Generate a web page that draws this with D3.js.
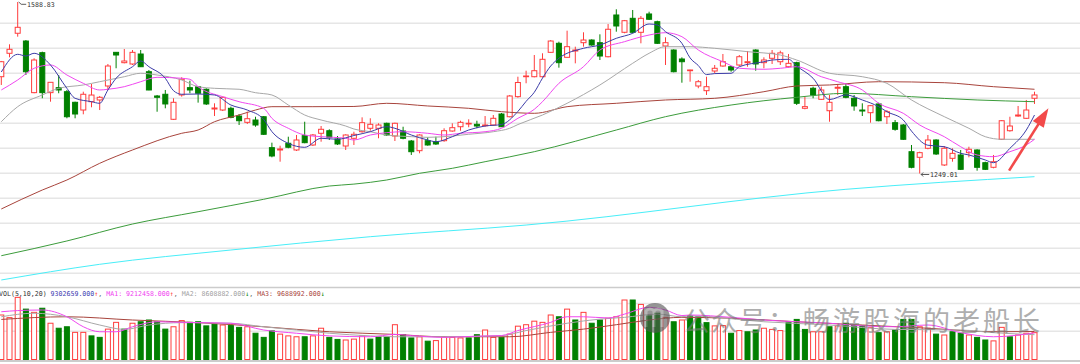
<!DOCTYPE html>
<html>
<head>
<meta charset="utf-8">
<script src="https://cdn.jsdelivr.net/npm/d3@7/dist/d3.min.js"></script>
<style>
  html, body { margin: 0; padding: 0; background: #fff; }
  svg { display: block; }
  .mono { font-family: 'DejaVu Sans Mono', monospace; font-size: 6.6px; }
</style>
</head>
<body>
<div id="chart-area"></div>
<script>
// Daily candles (oldest -> newest)
const opens = [1440.8,1487.2,1526.9,1511.5,1409.2,1488.4,1409.2,1419.1,1411.1,1390.1,
  1374.8,1391.3,1394.7,1422.4,1489.1,1468.6,1466.0,1485.8,1450.7,1402.6,
  1406.0,1356.4,1404.6,1419.1,1421.0,1415.9,1376.8,1374.8,1378.2,1362.9,
  1350.4,1355.0,1361.5,1300.2,1295.6,1308.9,1295.6,1323.9,1305.5,1328.7,
  1333.8,1317.4,1303.5,1318.8,1331.8,1338.6,1338.6,1348.5,1323.3,1333.2,
  1313.4,1294.2,1314.0,1312.0,1314.0,1333.2,1341.7,1347.1,1346.5,1343.7,
  1345.1,1366.9,1361.5,1401.3,1440.8,1440.8,1440.8,1489.1,1507.0,1479.2,
  1491.7,1508.2,1513.5,1508.2,1480.4,1563.1,1528.8,1556.5,1528.8,1565.1,
  1549.8,1501.7,1493.7,1475.9,1452.7,1422.4,1413.1,1452.1,1462.0,1460.6,
  1464.0,1468.6,1493.7,1468.6,1477.3,1470.5,1460.6,1468.6,1378.2,1417.9,
  1396.0,1373.4,1417.9,1421.0,1398.1,1374.8,1369.5,1386.8,1361.5,1349.7,
  1345.1,1292.2,1281.1,1299.0,1315.4,1265.9,1279.1,1285.7,1290.3,1295.6,
  1270.4,1261.3,1316.8,1333.8,1362.9,1358.4,1398.1];
const highs = [1472.0,1505.0,1588.83,1513.5,1477.3,1490.4,1430.0,1444.2,1414.5,1391.3,
  1411.1,1426.4,1402.6,1466.0,1489.5,1495.7,1493.7,1493.7,1454.1,1404.6,
  1414.5,1398.1,1439.7,1432.9,1421.5,1417.9,1388.1,1401.3,1381.5,1366.9,
  1371.4,1361.5,1362.9,1310.1,1304.1,1321.9,1325.3,1351.6,1327.3,1343.1,
  1336.6,1323.3,1326.7,1331.8,1360.3,1358.4,1348.5,1349.7,1349.7,1341.7,
  1315.4,1326.7,1320.7,1321.9,1338.6,1348.5,1353.6,1356.4,1353.6,1362.9,
  1364.9,1368.9,1404.6,1440.8,1452.7,1483.8,1487.2,1513.5,1510.2,1532.0,
  1500.3,1528.8,1514.9,1524.8,1545.2,1574.4,1553.2,1573.0,1561.1,1569.6,
  1551.8,1518.9,1495.1,1479.2,1454.5,1434.3,1440.8,1464.0,1485.8,1462.0,
  1483.8,1491.7,1495.1,1479.2,1493.7,1492.3,1485.8,1470.5,1401.3,1421.0,
  1421.0,1404.6,1426.4,1426.4,1404.6,1388.1,1384.8,1389.4,1374.8,1355.0,
  1347.1,1305.5,1292.2,1325.3,1316.8,1303.5,1299.0,1295.6,1302.1,1297.0,
  1272.4,1285.7,1355.0,1361.5,1382.8,1394.7,1411.1];
const lows = [1424.4,1479.2,1520.1,1444.2,1408.0,1398.1,1391.3,1408.0,1358.4,1358.4,
  1366.3,1380.2,1374.8,1414.5,1457.5,1467.3,1464.0,1460.0,1414.0,1371.4,
  1378.2,1355.0,1401.3,1408.0,1389.4,1384.8,1362.9,1372.8,1358.4,1345.1,
  1347.1,1341.7,1325.3,1281.1,1272.4,1299.0,1293.6,1308.9,1303.5,1312.0,
  1315.4,1305.5,1295.6,1305.5,1329.8,1333.8,1318.8,1323.3,1313.4,1316.8,
  1285.7,1289.1,1304.1,1305.5,1312.0,1331.8,1333.8,1340.6,1338.6,1341.7,
  1343.1,1341.1,1360.3,1399.2,1427.8,1439.6,1439.6,1488.4,1458.7,1478.5,
  1467.3,1500.3,1502.2,1473.9,1479.2,1530.0,1526.9,1526.9,1507.0,1553.2,
  1505.6,1464.0,1449.5,1428.9,1430.9,1417.9,1404.6,1447.6,1460.6,1450.7,
  1462.0,1460.6,1452.7,1457.5,1466.0,1464.0,1458.7,1384.8,1376.2,1398.1,
  1394.7,1351.6,1404.6,1398.1,1373.4,1362.9,1349.7,1352.4,1347.1,1333.8,
  1315.4,1259.3,1249.01,1297.0,1285.7,1263.9,1272.4,1255.9,1281.1,1254.6,
  1255.9,1259.3,1315.4,1331.8,1361.5,1357.0,1386.8];
const closes = [1470.5,1495.1,1538.7,1450.7,1473.9,1409.2,1429.7,1414.5,1361.5,1366.9,
  1406.0,1404.5,1400.0,1462.0,1483.8,1471.9,1489.1,1460.6,1414.5,1400.0,
  1386.8,1390.1,1435.7,1414.5,1408.0,1386.8,1378.8,1400.0,1360.3,1353.6,
  1357.6,1345.1,1326.7,1283.7,1297.6,1301.0,1315.4,1310.1,1325.3,1336.6,
  1320.7,1307.5,1325.3,1326.7,1349.7,1346.5,1345.1,1325.3,1348.5,1318.8,
  1292.2,1325.3,1305.5,1307.5,1333.8,1339.8,1350.4,1348.5,1343.1,1345.1,
  1358.4,1341.7,1402.6,1429.3,1442.2,1452.7,1475.3,1511.5,1468.6,1500.3,
  1493.7,1513.5,1503.6,1481.8,1534.8,1541.3,1551.8,1528.8,1556.5,1554.6,
  1507.0,1508.2,1450.7,1470.5,1454.1,1430.9,1421.0,1457.5,1470.5,1454.1,
  1480.4,1470.5,1466.0,1473.9,1487.2,1488.0,1467.3,1388.1,1381.5,1404.6,
  1414.5,1390.1,1419.9,1400.0,1382.8,1372.8,1383.4,1353.6,1371.4,1336.6,
  1316.8,1261.3,1290.3,1315.4,1287.7,1299.0,1289.0,1257.3,1297.0,1261.3,
  1257.3,1272.4,1353.6,1343.1,1364.9,1374.8,1404.6];
// Volume, millions
const volumes = [15.3,14.4,21.3,17.3,16.2,17.6,12.5,10.8,11.3,9.4,
  9.4,8.2,7.7,10.5,12.8,10.5,12.5,13.0,13.6,13.0,
  10.5,11.3,13.4,12.8,13.0,11.6,12.2,11.9,11.7,11.1,
  11.3,9.1,7.7,9.9,8.8,8.2,7.9,7.9,8.2,10.8,
  7.7,7.0,6.8,7.1,8.2,7.1,7.9,7.9,12.0,8.6,
  7.5,7.9,6.4,6.6,7.9,7.7,7.5,7.5,8.6,10.2,
  7.7,7.7,8.8,11.5,12.0,13.2,12.8,15.3,14.7,17.3,
  13.6,16.2,12.5,13.6,14.2,14.7,20.4,20.4,18.9,15.0,
  15.9,14.5,13.0,13.6,15.0,14.7,12.7,11.6,11.7,9.1,
  10.0,9.6,10.2,10.8,10.4,10.0,13.0,13.8,10.4,9.6,
  9.6,11.3,11.6,12.5,11.9,11.6,11.0,9.3,9.6,10.2,
  13.8,13.8,11.3,10.8,8.8,8.5,9.6,9.1,8.5,7.7,
  6.8,6.5,11.1,7.9,8.5,9.1,9.30];

// Moving averages: [day index, value]
const ma5 = [[0,1450.1],[2,1485.2],[3,1481.8],[4,1487.2],[6,1464.0],[8,1417.8],[9,1398.0],[11,1391.3],[12,1388.1],[13,1414.5],[14,1437.7],[16,1460.6],[17,1471.9],[18,1460.6],[20,1437.7],[21,1413.1],[22,1406.0],[24,1406.5],[26,1404.6],[28,1384.7],[30,1374.8],[32,1356.0],[33,1332.0],[35,1308.8],[37,1300.9],[39,1318.8],[41,1316.8],[43,1324.3],[45,1331.8],[47,1341.7],[48,1338.6],[50,1325.3],[52,1315.4],[53,1312.0],[55,1321.9],[57,1335.2],[59,1343.1],[61,1346.1],[63,1372.0],[64,1392.0],[65,1410.0],[66,1438.0],[67,1462.0],[68,1477.3],[71,1497.1],[73,1503.6],[75,1516.9],[77,1526.8],[79,1545.2],[80,1543.3],[81,1530.0],[83,1507.0],[84,1478.0],[85,1463.0],[86,1445.0],[87,1447.0],[89,1447.6],[90,1460.6],[93,1470.5],[94,1473.9],[96,1475.3],[97,1462.0],[99,1437.7],[101,1395.5],[103,1404.6],[105,1394.7],[107,1381.4],[108,1371.5],[110,1355.0],[111,1333.0],[113,1305.0],[115,1302.1],[117,1289.0],[118,1285.7],[120,1275.8],[121,1270.4],[123,1298.9],[125,1335.2],[126,1364.9]];
const ma10 = [[0,1414.5],[2,1434.3],[4,1457.5],[6,1464.0],[8,1444.2],[10,1427.7],[12,1414.5],[13,1415.9],[15,1421.0],[17,1430.9],[19,1439.6],[22,1437.7],[23,1435.7],[24,1421.0],[27,1401.2],[29,1391.3],[32,1378.2],[33,1358.4],[35,1338.6],[37,1325.3],[39,1322.0],[42,1318.8],[43,1315.4],[45,1325.3],[47,1329.9],[49,1331.8],[52,1328.7],[54,1325.3],[56,1328.7],[59,1331.8],[61,1338.6],[63,1358.4],[65,1376.2],[66,1391.3],[68,1427.7],[71,1460.6],[73,1493.7],[76,1510.2],[79,1523.4],[81,1528.0],[83,1520.1],[85,1493.7],[88,1470.5],[90,1457.5],[93,1455.5],[95,1457.5],[97,1460.6],[100,1440.8],[102,1430.9],[105,1414.5],[107,1388.1],[110,1368.3],[112,1345.1],[115,1321.9],[117,1302.1],[119,1285.7],[121,1282.3],[123,1292.2],[125,1305.5],[126,1316.8]];
const ma20 = [[0,1351.6],[2,1381.4],[5,1404.6],[7,1417.8],[10,1424.4],[12,1430.9],[15,1440.8],[17,1447.6],[19,1444.2],[22,1434.3],[24,1421.0],[26,1417.8],[29,1415.9],[31,1409.1],[33,1404.6],[35,1384.7],[37,1364.9],[39,1355.0],[42,1343.1],[43,1337.2],[45,1331.8],[47,1325.3],[50,1322.0],[52,1320.7],[55,1323.3],[57,1326.7],[60,1331.8],[62,1338.6],[63,1346.0],[66,1364.9],[69,1388.1],[73,1424.4],[77,1467.4],[79,1487.2],[81,1500.3],[84,1500.3],[87,1497.1],[91,1490.4],[95,1483.8],[97,1473.9],[101,1447.6],[105,1440.8],[108,1427.7],[111,1394.7],[115,1361.6],[118,1338.6],[120,1321.9],[122,1316.8],[126,1316.8]];
const ma60 = [[0,1178.7],[5,1216.3],[8,1236.1],[12,1269.2],[16,1295.6],[22,1328.7],[24,1335.2],[26,1351.6],[29,1364.9],[31,1374.8],[33,1381.4],[38,1381.4],[43,1381.8],[47,1388.1],[52,1382.8],[57,1378.2],[61,1371.5],[65,1368.3],[69,1381.4],[75,1388.1],[81,1394.7],[87,1398.0],[93,1411.1],[97,1422.4],[101,1424.4],[107,1430.9],[115,1428.9],[121,1421.0],[126,1415.9]];
const ma120 = [[0,1086.1],[8,1115.3],[16,1148.9],[24,1173.3],[32,1197.9],[40,1224.2],[43,1228.0],[47,1236.1],[51,1249.4],[55,1259.3],[59,1272.4],[65,1292.2],[75,1335.2],[81,1361.6],[89,1384.7],[97,1400.0],[103,1407.9],[111,1401.2],[119,1394.7],[126,1391.3]];
const ma250 = [[0,1038.0],[12,1069.1],[28,1097.4],[45,1123.8],[64,1146.9],[103,1217.7],[126,1242.7]];

const volMa5 = [[0,16.4],[2,16.8],[5,17.0],[8,14.7],[10,11.3],[12,9.6],[14,9.6],[16,11.3],[19,13.0],[22,12.8],[24,12.7],[28,12.5],[32,10.2],[36,9.1],[40,8.2],[45,7.9],[48,8.7],[50,8.3],[54,7.7],[58,8.1],[61,8.3],[63,10.0],[67,12.8],[69,14.7],[71,14.7],[74,14.3],[76,15.6],[79,17.9],[81,17.0],[83,15.1],[84,15.3],[89,14.5],[93,13.6],[97,13.0],[101,12.5],[105,11.6],[109,11.3],[113,11.9],[117,9.3],[121,7.9],[126,9.21]];
const volMa10 = [[0,14.7],[4,15.9],[8,14.7],[12,11.9],[15,10.4],[18,11.9],[22,12.7],[28,12.5],[32,11.3],[36,10.2],[40,9.1],[45,8.2],[48,7.9],[54,7.9],[61,8.3],[64,10.0],[69,12.5],[73,13.9],[76,14.5],[80,15.6],[83,14.7],[84,15.0],[93,13.0],[101,11.9],[109,10.4],[117,10.2],[121,9.3],[126,8.61]];
const volMa20 = [[0,13.8],[8,14.7],[16,13.6],[24,12.7],[32,11.3],[40,9.6],[48,8.7],[54,7.9],[62,7.9],[67,9.4],[71,10.5],[75,12.0],[79,13.6],[83,14.5],[89,14.2],[97,13.0],[105,11.9],[113,10.8],[121,9.6],[126,9.69]];

// Grid levels
const priceGrid = [1546.6, 1497.1, 1447.6, 1398.0, 1348.5, 1299.0, 1249.4, 1199.9, 1150.3, 1100.8, 1051.3];
const volGrid = [9.8, 19.2];

// Volume header: VOL, MA1, MA2, MA3 and direction
const volHeaderValues = [9302659, 9212458, 8608882, 9688992];
const volHeaderUp = [true, true, false, false];

// Trend arrow drawn on the chart: [day index, price]
const arrowFrom = [122.9, 1254.6];
const arrowTo = [127.7, 1378.2];

const width = 1080;
const height = 364;
const upColor = '#ff3c3c';
const downColor = '#008000';

const svg = d3.select('#chart-area')
  .append('svg')
  .attr('width', width)
  .attr('height', height);

// Scales
const xScale = d3.scaleLinear().domain([0, 126]).range([1.3, 1034.5]);
const yScale = d3.scaleLinear().domain([1249.01, 1588.83]).range([173.5, 2]);
const volScale = d3.scaleLinear().domain([0, 20.4]).range([360, 300]);

// Grid lines
svg.append('g')
  .selectAll('line')
  .data(priceGrid)
  .join('line')
  .attr('x1', 0).attr('x2', width)
  .attr('y1', (d) => yScale(d)).attr('y2', (d) => yScale(d))
  .attr('stroke', '#e6e6e6')
  .attr('stroke-width', 1.5);

svg.append('g')
  .selectAll('line')
  .data(volGrid)
  .join('line')
  .attr('x1', 0).attr('x2', width)
  .attr('y1', (d) => volScale(d)).attr('y2', (d) => volScale(d))
  .attr('stroke', '#e6e6e6')
  .attr('stroke-width', 1.5);

// Panel separators
svg.append('line')
  .attr('x1', 0).attr('x2', width).attr('y1', 287.5).attr('y2', 287.5)
  .attr('stroke', '#cccccc').attr('stroke-width', 1.5);
svg.append('line')
  .attr('x1', 0).attr('x2', width).attr('y1', 361).attr('y2', 361)
  .attr('stroke', '#cccccc').attr('stroke-width', 2);

const candles = closes.map((c, i) => ({ i, o: opens[i], h: highs[i], l: lows[i], c }));

// Candles
const gCandle = svg.append('g')
  .selectAll('g')
  .data(candles)
  .join('g')
  .attr('transform', (d) => `translate(${xScale(d.i)},0)`);

gCandle.append('line')
  .attr('y1', (d) => yScale(d.h))
  .attr('y2', (d) => yScale(d.l))
  .attr('stroke', (d) => (d.c >= d.o ? upColor : downColor))
  .attr('stroke-width', 1);

gCandle.append('rect')
  .attr('x', -2.5)
  .attr('width', 5)
  .attr('y', (d) => yScale(Math.max(d.o, d.c)))
  .attr('height', (d) => Math.max(Math.abs(yScale(d.o) - yScale(d.c)), 0.6))
  .attr('fill', (d) => (d.c >= d.o ? '#fff' : downColor))
  .attr('stroke', (d) => (d.c >= d.o ? upColor : downColor))
  .attr('stroke-width', 1);

// Price moving averages
const priceLine = d3.line()
  .x((d) => xScale(d[0]))
  .y((d) => yScale(d[1]))
  .curve(d3.curveMonotoneX);

const maSeries = [
  { data: ma250, color: '#48eef8' },
  { data: ma120, color: '#3c9c3c' },
  { data: ma60, color: '#a8443c' },
  { data: ma20, color: '#a8a8a8' },
  { data: ma10, color: '#f048f0' },
  { data: ma5, color: '#3c3ca8' },
];

svg.append('g')
  .selectAll('path')
  .data(maSeries)
  .join('path')
  .attr('d', (d) => priceLine(d.data))
  .attr('fill', 'none')
  .attr('stroke', (d) => d.color)
  .attr('stroke-width', 1);

// High / low labels
const fmt = d3.format('.2f');
const hiIdx = highs.indexOf(d3.max(highs));
const loIdx = lows.indexOf(d3.min(lows));
const hx = xScale(hiIdx);
const hy = yScale(highs[hiIdx]);
svg.append('path')
  .attr('d', `M${hx + 1},${hy} L${hx + 3.5},${hy + 2.3} L${hx + 8.5},${hy + 2.3}`)
  .attr('fill', 'none').attr('stroke', '#333').attr('stroke-width', 0.8);
svg.append('text')
  .attr('class', 'mono')
  .attr('x', hx + 9.3).attr('y', hy + 4.8)
  .attr('fill', '#333')
  .text(fmt(highs[hiIdx]));

const lx = xScale(loIdx);
const ly = yScale(lows[loIdx]);
svg.append('path')
  .attr('d', `M${lx + 3.5},${ly - 1} L${lx + 1.5},${ly + 1} L${lx + 3.5},${ly + 3} M${lx + 1.5},${ly + 1} L${lx + 9.5},${ly + 1}`)
  .attr('fill', 'none').attr('stroke', '#333').attr('stroke-width', 0.8);
svg.append('text')
  .attr('class', 'mono')
  .attr('x', lx + 10.3).attr('y', ly + 3.4)
  .attr('fill', '#333')
  .text(fmt(lows[loIdx]));

// Red trend arrow
const p0 = [xScale(arrowFrom[0]), yScale(arrowFrom[1])];
const p1 = [xScale(arrowTo[0]), yScale(arrowTo[1])];
const len = Math.hypot(p1[0] - p0[0], p1[1] - p0[1]);
const ux = (p1[0] - p0[0]) / len;
const uy = (p1[1] - p0[1]) / len;
const headLen = 19;
const headHalf = 6.5;
const bx = p1[0] - ux * headLen;
const by = p1[1] - uy * headLen;
svg.append('path')
  .attr('d', `M${p0[0]},${p0[1]} L${bx + ux * 3},${by + uy * 3}`)
  .attr('stroke', '#f24a4a').attr('stroke-width', 2.6).attr('fill', 'none');
svg.append('path')
  .attr('d', `M${p1[0]},${p1[1]} L${bx - uy * headHalf},${by + ux * headHalf} L${bx + uy * headHalf},${by - ux * headHalf} Z`)
  .attr('fill', '#f24a4a');

// Volume bars
const volUp = (i) => (i === 0 ? true : closes[i] >= closes[i - 1]);
svg.append('g')
  .selectAll('rect')
  .data(volumes)
  .join('rect')
  .attr('x', (d, i) => xScale(i) - 2.5)
  .attr('width', 5)
  .attr('y', (d) => volScale(d))
  .attr('height', (d) => volScale(0) - volScale(d) - 0.5)
  .attr('fill', (d, i) => (volUp(i) ? '#fff' : downColor))
  .attr('stroke', (d, i) => (volUp(i) ? upColor : downColor))
  .attr('stroke-width', 1);

// Volume moving averages
const volLine = d3.line()
  .x((d) => xScale(d[0]))
  .y((d) => volScale(d[1]))
  .curve(d3.curveMonotoneX);

svg.append('g')
  .selectAll('path')
  .data([
    { data: volMa20, color: '#a8443c' },
    { data: volMa10, color: '#a8a8a8' },
    { data: volMa5, color: '#f048f0' },
  ])
  .join('path')
  .attr('d', (d) => volLine(d.data))
  .attr('fill', 'none')
  .attr('stroke', (d) => d.color)
  .attr('stroke-width', 1);

// Volume header, one text run so the pieces never collide
const volFmt = d3.format('.3f');
const headerColors = ['#3c3cb0', '#f040f0', '#a0a0a0', '#a8443c'];
const headerNames = ['', 'MA1: ', 'MA2: ', 'MA3: '];
const header = svg.append('text')
  .attr('class', 'mono')
  .attr('x', -1)
  .attr('y', 295.6)
  .attr('xml:space', 'preserve');
header.append('tspan').attr('fill', '#333').text('VOL(5,10,20) ');
volHeaderValues.forEach((v, k) => {
  if (k > 0) {
    header.append('tspan').attr('fill', '#666').text(', ');
    header.append('tspan').attr('fill', headerColors[k]).text(headerNames[k]);
  }
  header.append('tspan').attr('fill', headerColors[k]).text(volFmt(v));
  header.append('tspan')
    .attr('fill', volHeaderUp[k] ? upColor : downColor)
    .text(volHeaderUp[k] ? '↑' : '↓');
});

// Watermark
const wm = svg.append('g').attr('opacity', 0.62);
wm.append('circle').attr('cx', 655).attr('cy', 318).attr('r', 15).attr('fill', '#555');
wm.append('path')
  .attr('d', 'M646,327 L646,311 Q650,307 654,311 L654,327 M654,311 Q658,307 662,311 L662,327')
  .attr('fill', 'none').attr('stroke', '#8a8a8a').attr('stroke-width', 3);
const wmChars = '公众号：畅游股海的老船长'.split('');
const wmX = [683, 711, 739, 768, 803, 833, 863, 893, 923, 953, 983, 1013];
wm.append('g')
  .selectAll('text')
  .data(wmChars)
  .join('text')
  .attr('x', (d, i) => wmX[i])
  .attr('y', 331)
  .attr('font-family', "'Noto Sans CJK SC', sans-serif")
  .attr('font-size', 27)
  .attr('fill', '#7d7d7d')
  .text((d) => d);
</script>
</body>
</html>
